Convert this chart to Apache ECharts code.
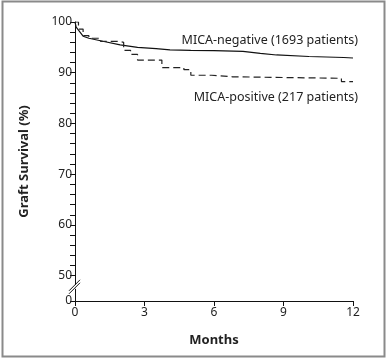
<!DOCTYPE html>
<html>
<head>
<meta charset="utf-8">
<script src="https://cdn.jsdelivr.net/npm/echarts@6/dist/echarts.min.js"></script>
<style>
html,body{margin:0;padding:0;background:#fff;}
#c{width:388px;height:359px;}
</style>
</head>
<body>
<div id="c"></div>
<script>
// Months and graft survival (%)
var negMonths = [0, 0.05, 0.35, 0.6, 1.2, 1.95, 2.7, 3.5, 4.1, 5.0, 6.0, 7.25, 8.0, 8.7, 10.1, 11.6, 12];
var negValues = [100, 99.0, 97.2, 96.8, 96.2, 95.5, 95.0, 94.75, 94.5, 94.4, 94.35, 94.2, 93.8, 93.5, 93.2, 93.0, 92.9];
var posMonths = [0, 0.15, 0.35, 0.6, 1.1, 1.9, 2.1, 2.4, 2.7, 3.75, 4.7, 5.0, 5.9, 6.8, 11.5, 12];
var posValues = [100, 98.6, 97.3, 96.8, 96.2, 96.0, 94.4, 93.6, 92.5, 91.0, 90.6, 89.5, 89.2, 88.9, 88.25, 88.25];
var xTicks = [0, 3, 6, 9, 12];
var yLabels = [45, 50, 60, 70, 80, 90, 100]; // 45 is shown as "0" (broken axis)
var yMinorTicks = [45, 50, 52, 54, 56, 58, 60, 62, 64, 66, 68, 70, 72, 74, 76, 78, 80, 82, 84, 86, 88, 90, 92, 94, 96, 98, 100];
var negLabel = 'MICA-negative (1693 patients)';
var posLabel = 'MICA-positive (217 patients)';

function zip(a, b) { return a.map(function (v, i) { return [v, b[i]]; }); }

var FONT = 'Noto Sans';
var chart = echarts.init(document.getElementById('c'), null, {renderer: 'canvas'});
var option = {
  animation: false,
  grid: {left: 75, right: 35, top: 22, bottom: 58, containLabel: false},
  xAxis: {
    type: 'value', min: 0, max: 12, interval: 3,
    name: 'Months', nameLocation: 'middle', nameGap: 33,
    nameTextStyle: {fontFamily: FONT, fontSize: 13, fontWeight: 'bold', color: '#222'},
    axisLine: {show: true, onZero: false, lineStyle: {color: '#111', width: 1}},
    axisTick: {show: true, inside: false, length: 5, lineStyle: {color: '#111'}, customValues: xTicks},
    axisLabel: {fontFamily: FONT, fontSize: 12, color: '#222', margin: 6, customValues: xTicks},
    splitLine: {show: false}
  },
  yAxis: {
    type: 'value', min: 45, max: 100,
    name: 'Graft Survival (%)', nameLocation: 'middle', nameGap: 44, nameRotate: 90,
    nameTextStyle: {fontFamily: FONT, fontSize: 13, fontWeight: 'bold', color: '#222'},
    axisLine: {show: true, onZero: false, lineStyle: {color: '#111', width: 1}},
    axisTick: {show: true, inside: false, length: 5, lineStyle: {color: '#111'}, customValues: yMinorTicks},
    axisLabel: {fontFamily: FONT, fontSize: 12, color: '#222', margin: 3, customValues: yLabels,
      formatter: function (v) { return v === 45 ? '0' : String(v); }},
    splitLine: {show: false}
  },
  series: [
    {type: 'line', name: negLabel, data: zip(negMonths, negValues), showSymbol: false, smooth: false,
     lineStyle: {color: '#111', width: 1.2}},
    {type: 'line', name: posLabel, data: zip(posMonths, posValues), showSymbol: false, step: 'end',
     lineStyle: {color: '#222', width: 1.2, type: [7, 4]}}
  ]
};
chart.setOption(option);

var p50 = chart.convertToPixel({gridIndex: 0}, [0, 47.6]);
var bx = p50[0], by = p50[1];
chart.setOption({
  graphic: [
    {type: 'rect', shape: {x: 2.5, y: 1.5, width: 382, height: 355}, style: {fill: 'none', stroke: '#8a8a8a', lineWidth: 2}, silent: true},
    {type: 'rect', shape: {x: bx - 2, y: by - 3, width: 4, height: 4}, style: {fill: '#fff'}, silent: true, z: 10},
    {type: 'line', shape: {x1: bx - 6, y1: by + 3, x2: bx + 5, y2: by - 8}, style: {stroke: '#111', lineWidth: 1}, z: 11},
    {type: 'line', shape: {x1: bx - 6, y1: by + 6, x2: bx + 5, y2: by - 5}, style: {stroke: '#111', lineWidth: 1}, z: 11},
    {type: 'text', right: 30, top: 34, style: {text: negLabel, fontFamily: FONT, fontSize: 12.5, fill: '#222'}},
    {type: 'text', right: 30, top: 91, style: {text: posLabel, fontFamily: FONT, fontSize: 12.5, fill: '#222'}}
  ]
});
</script>
</body>
</html>
